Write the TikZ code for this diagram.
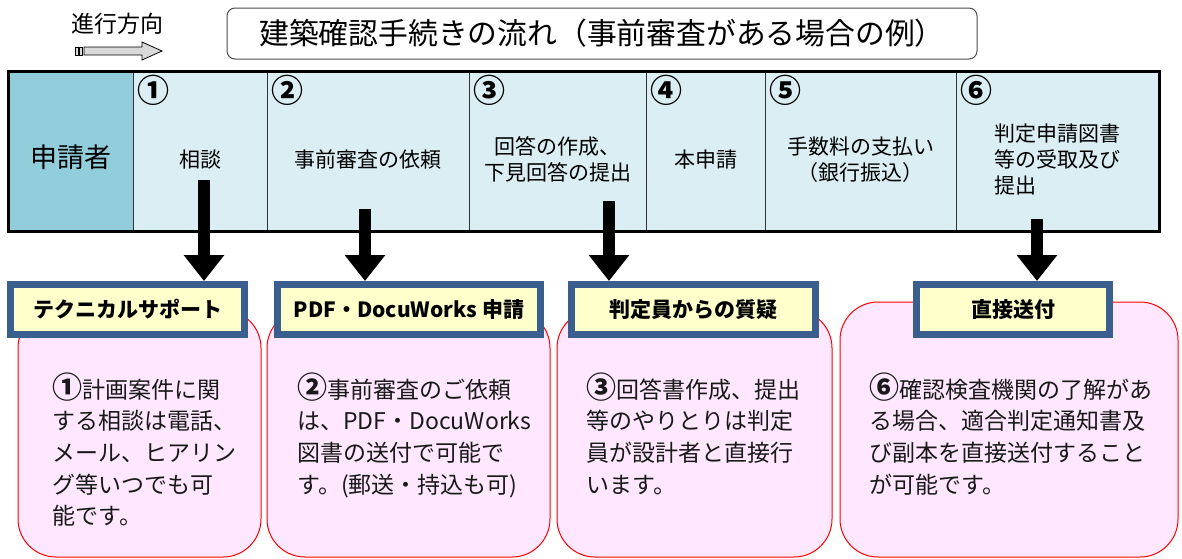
\documentclass[tikz,border=0pt]{standalone}
\usepackage{fontspec}
\setmainfont{Noto Sans CJK JP}
\usepackage{tikz}
\usetikzlibrary{arrows.meta,backgrounds,calc,positioning}

\definecolor{applicant}{HTML}{92CDDC}
\definecolor{stepfill}{HTML}{DAEEF3}
\definecolor{hdrblue}{HTML}{3A5F8E}
\definecolor{hdrfill}{HTML}{FFFFCC}
\definecolor{notefill}{HTML}{FFE8FF}
\definecolor{notered}{HTML}{FF0000}
\definecolor{dirgray}{HTML}{D9D9D9}

\newcommand{\circnum}[1]{{\fontsize{15pt}{15pt}\selectfont\bfseries #1}}

\tikzset{
  cell/.style={draw=black!80, line width=0.5pt, fill=stepfill, minimum height=79.5pt, inner sep=0pt},
  lbl/.style={yshift=-4pt, inner sep=0pt, align=center, font=\fontsize{10.5pt}{13.2pt}\selectfont},
  num/.style={anchor=north west, inner sep=0pt, font=\fontsize{16pt}{16pt}\selectfont\bfseries},
  hdr/.style={draw=hdrblue, line width=3.5pt, fill=hdrfill, minimum height=25pt, inner sep=0pt, text depth=1pt, font=\fontsize{10.5pt}{10.5pt}\selectfont\bfseries},
  note/.style={draw=notered, line width=0.5pt, fill=notefill, rounded corners=19pt, minimum height=123.5pt, inner sep=0pt},
  body/.style={anchor=north west, inner sep=0pt, align=left, text=black!90, font=\fontsize{11.5pt}{15.85pt}\selectfont},
  down/.style={line width=6pt, -{Triangle[width=19.5pt,length=13pt]}}
}

\begin{document}
\begin{tikzpicture}[x=0.5pt,y=-0.5pt]
\useasboundingbox (0,0) rectangle (1182,558);

\node[font=\fontsize{11.5pt}{11.5pt}\selectfont] (dir) at (117,24) {進行方向};
\draw[fill=dirgray, line width=0.4pt] (84,47) -- (142,47) -- (142,42) -- (162,51) -- (142,60) -- (142,55) -- (84,55) -- cycle;
\draw[fill=dirgray, line width=0.4pt] (75,47) rectangle (78,55);
\draw[fill=dirgray, line width=0.4pt] (79.5,47) rectangle (82.5,55);
\node[draw=black!70, line width=0.5pt, rounded corners=4pt, minimum width=375pt, minimum height=25.5pt, inner sep=0pt, font=\fontsize{14.9pt}{15pt}\selectfont] (title) at (602,33.5) {建築確認手続きの流れ（事前審査がある場合の例）};

\node[cell, fill=applicant, minimum width=62pt, label={[lbl, yshift=1pt, font=\fontsize{13.5pt}{13.5pt}\selectfont]center:申請者}] (app) at (71,151.5) {};
\node[cell, minimum width=67pt, label={[lbl]center:相談}] (s1) at (200,151.5) {};
\node[cell, minimum width=101pt, label={[lbl]center:事前審査の依頼}] (s2) at (368,151.5) {};
\node[cell, minimum width=88.5pt, label={[lbl]center:{回答の作成、\\下見回答の提出}}] (s3) at (557.5,151.5) {};
\node[cell, minimum width=59.5pt, label={[lbl]center:本申請}] (s4) at (705.5,151.5) {};
\node[cell, minimum width=95.5pt, label={[lbl]center:{手数料の支払い\\（銀行振込）}}] (s5) at (860.5,151.5) {};
\node[cell, minimum width=101.5pt, label={[lbl, align=left]center:{判定申請図書\\等の受取及び\\提出}}] (s6) at (1057.5,151.5) {};
\draw[line width=1.5pt] (app.north west) rectangle (s6.south east);

\node[num, below right=1.5pt and 2.5pt of s1.north west] (n1) {①};
\node[num, below right=1.5pt and 2.5pt of s2.north west] (n2) {②};
\node[num, below right=1.5pt and 2.5pt of s3.north west] (n3) {③};
\node[num, below right=1.5pt and 2.5pt of s4.north west] (n4) {④};
\node[num, below right=1.5pt and 2.5pt of s5.north west] (n5) {⑤};
\node[num, below right=1.5pt and 2.5pt of s6.north west] (n6) {⑥};

\node[note, minimum width=121.5pt] (b1) at (139.5,433.5) {};
\node[note, minimum width=141.5pt] (b2) at (408.5,433.5) {};
\node[note, minimum width=137.5pt] (b3) at (694.5,433.5) {};
\node[note, minimum width=169pt, minimum height=127.5pt] (b4) at (1009,429.5) {};

\node[hdr, minimum width=117pt] (h1) at (127.5,309.5) {テクニカルサポート};
\node[hdr, minimum width=131.5pt] (h2) at (409,309.5) {PDF・DocuWorks 申請};
\node[hdr, minimum width=122pt] (h3) at (693.5,309.5) {判定員からの質疑};
\node[hdr, minimum width=96.5pt] (h4) at (1013,309.5) {直接送付};

\coordinate (a1) at (204,180);
\coordinate (a2) at (365,209);
\coordinate (a3) at (609,201);
\coordinate (a6) at (1037,219);
\draw[down] (a1) -- (a1 |- h1.north);
\draw[down] (a2) -- (a2 |- h2.north);
\draw[down] (a3) -- (a3 |- h3.north);
\draw[down] (a6) -- (a6 |- h4.north);

\node[body] (t1) at (52,372) {\circnum{①}計画案件に関\\する相談は電話、\\メール、ヒアリン\\グ等いつでも可\\能です。};
\node[body] (t2) at (297,372) {\circnum{②}事前審査のご依頼\\は、PDF・DocuWorks\\図書の送付で可能で\\す。(郵送・持込も可)};
\node[body] (t3) at (586,372) {\circnum{③}回答書作成、提出\\等のやりとりは判定\\員が設計者と直接行\\います。};
\node[body] (t4) at (869,372) {\circnum{⑥}確認検査機関の了解があ\\る場合、適合判定通知書及\\び副本を直接送付すること\\が可能です。};
\end{tikzpicture}
\end{document}
